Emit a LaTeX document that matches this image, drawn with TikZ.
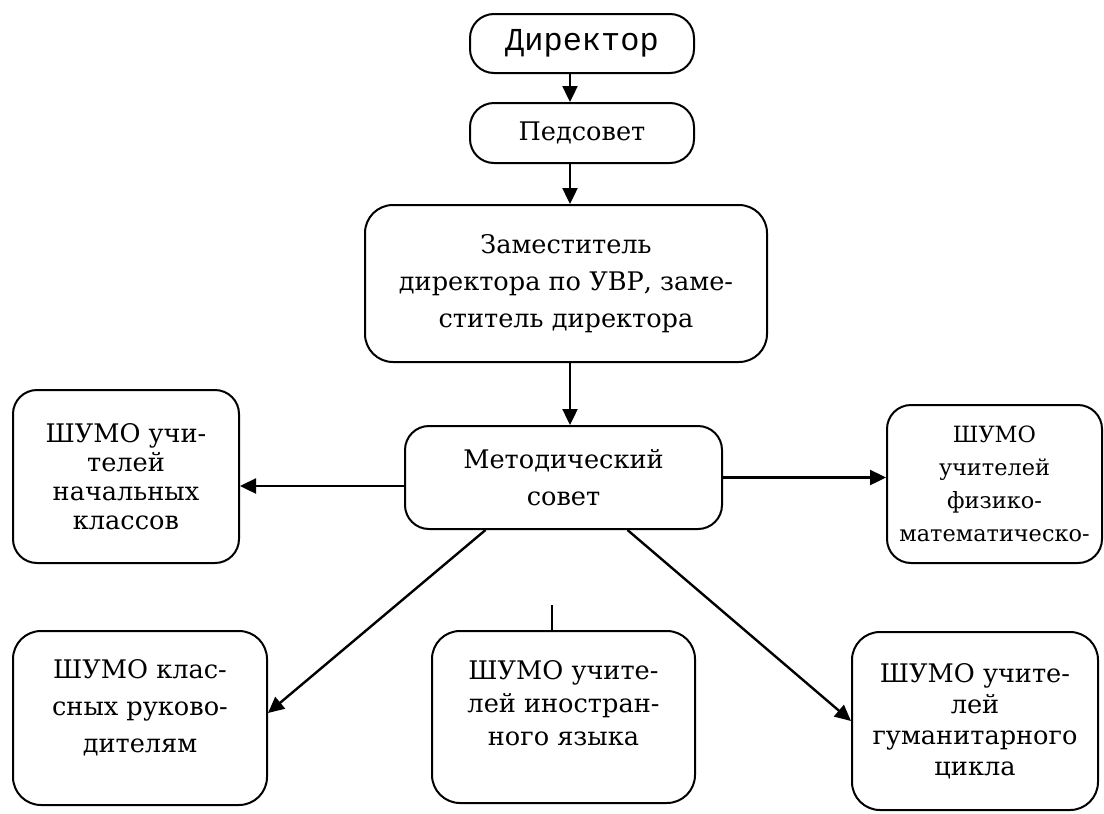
\documentclass[tikz,border=0pt]{standalone}
\usepackage{fontspec}
\setmainfont{DejaVu Serif}[Scale=0.8]
\setmonofont{Liberation Mono}
\usepackage{tikz}
\usetikzlibrary{arrows.meta, positioning, calc}
\tikzset{
    box/.style={
        rectangle,
        rounded corners=12pt,
        draw=black,
        line width=1pt,
        fill=white,
        align=center,
        inner sep=2pt,
        font=\rmfamily\fontsize{16}{18.5}\selectfont
    },
    wire/.style={
        draw=black,
        line width=1.2pt,
        -{Triangle[length=8pt,width=7.5pt]}
    },
    tick/.style={
        draw=black,
        line width=1.2pt
    }
}
\begin{document}
\begin{tikzpicture}[x=0.5pt,y=-0.5pt]

\useasboundingbox (0,0) rectangle (1104,814);

\node[box, minimum width=112pt, minimum height=29.5pt, font=\ttfamily\fontsize{16}{18.5}\selectfont] (dir) at (582,43.5) {Директор};
\node[box, minimum width=112pt, minimum height=30pt] (ped) at (582,133) {Педсовет};
\node[box, rounded corners=14pt, minimum width=201pt, minimum height=78.5pt] (zam) at (566,283.5)
    {Заместитель\\директора по УВР, заме-\\ститель директора};
\node[box, minimum width=158.5pt, minimum height=51.5pt] (met) at (563.5,477.5) {Методический\\совет};

\node[box, minimum width=113pt, minimum height=86.5pt, font=\rmfamily\fontsize{16}{14.5}\selectfont] (nach) at (126,476.5)
    {ШУМО учи-\\телей\\начальных\\классов};
\node[box, minimum width=107.5pt, minimum height=79pt, inner sep=1pt, font=\rmfamily\fontsize{14}{16.5}\selectfont] (fiz) at (994.5,484)
    {ШУМО\\учителей\\физико-\\математическо-};

\node[box, rounded corners=14pt, minimum width=127pt, minimum height=87pt] (kls) at (140,718)
    {ШУМО клас-\\сных руково-\\дителям\\[-6pt]};
\node[box, rounded corners=14pt, minimum width=131.5pt, minimum height=86pt, font=\rmfamily\fontsize{16}{16.5}\selectfont] (ino) at (563.5,717)
    {ШУМО учите-\\лей иностран-\\ного языка\\[-2pt]};
\node[box, rounded corners=14pt, minimum width=123pt, minimum height=89pt, font=\rmfamily\fontsize{16}{15.5}\selectfont] (gum) at (975,721)
    {ШУМО учите-\\лей\\гуманитарного\\цикла};

\coordinate (axis) at (570,0);
\coordinate (top) at (552,605);

\draw[wire] (dir.south -| axis) -- (ped.north -| axis);
\draw[wire] (ped.south -| axis) -- (zam.north -| axis);
\draw[wire] (zam.south -| axis) -- (met.north -| axis);
\draw[wire] ([yshift=-4.25pt]met.west) -- ([yshift=-4.25pt]met.west -| nach.east);
\draw[wire] (met.east) -- (met.east -| fiz.west);
\draw[wire] ([xshift=-39pt]met.south) -- ([yshift=2.5pt]kls.east);
\draw[wire] ([xshift=32pt]met.south) -- (gum.west);
\draw[tick] (top) -- (top |- ino.north);

\end{tikzpicture}
\end{document}
